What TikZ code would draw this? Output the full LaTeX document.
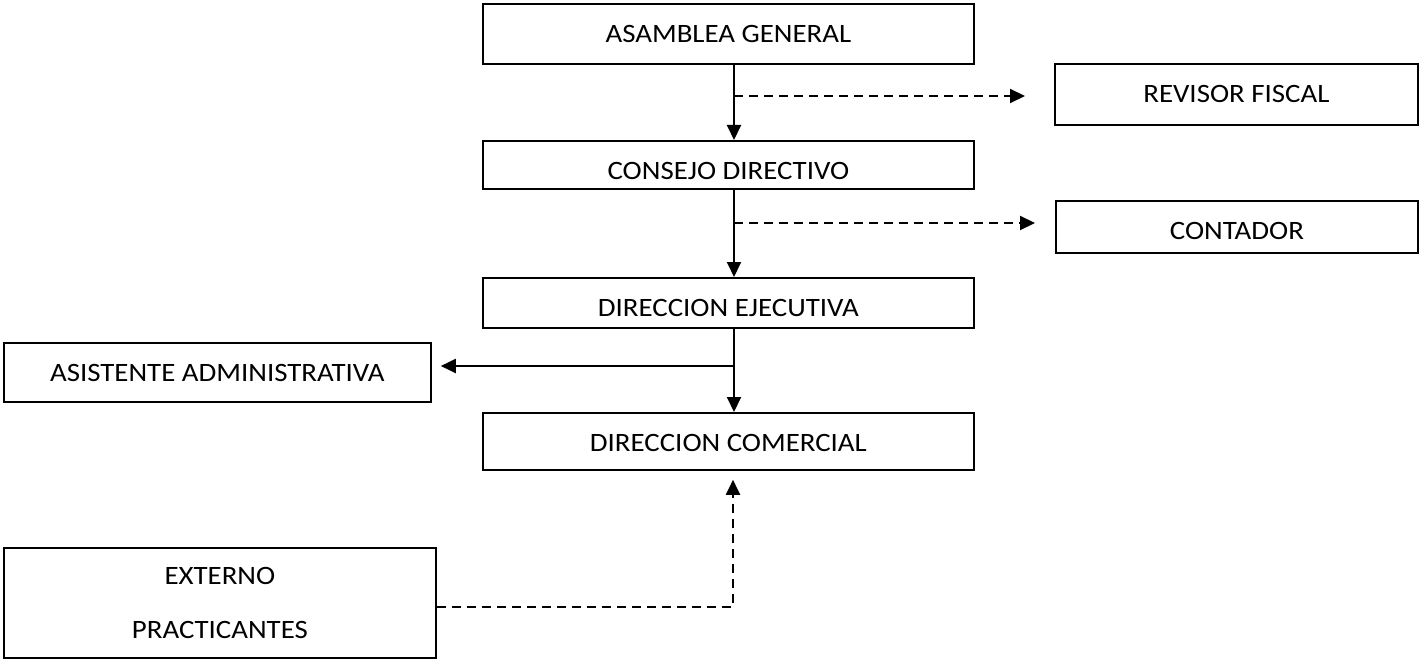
\documentclass[tikz,border=0pt]{standalone}
\usepackage{fontspec}
\setmainfont{Carlito}[FakeStretch=1.09]
\usetikzlibrary{arrows.meta}
\tikzset{
  box/.style 2 args={draw, line width=1.8pt, inner sep=0pt, anchor=north west,
    minimum width=#1, text height=39pt, text depth=#2,
    font=\fontsize{26.5}{31}\selectfont},
  conn/.style={line width=2pt, -{Triangle[length=15pt,width=14pt]}},
  dconn/.style={conn, dash pattern=on 9pt off 6pt},
}
\begin{document}
\begin{tikzpicture}[x=1pt,y=-1pt]
\useasboundingbox (0,0) rectangle (1419,663);
\node[box={491pt}{21pt}] (asam) at (482,3) {ASAMBLEA GENERAL};
\node[box={491pt}{9pt}] (cons) at (482,140) {CONSEJO DIRECTIVO};
\node[box={491pt}{11pt}] (dej) at (482,277) {DIRECCION EJECUTIVA};
\node[box={491pt}{18pt}] (dcom) at (482,412) {DIRECCION COMERCIAL};
\node[box={363pt}{22pt}] (rev) at (1054,63) {REVISOR FISCAL};
\node[box={362pt}{13pt}] (cont) at (1055,200) {CONTADOR};
\node[box={427pt}{20pt}] (asis) at (3,342) {ASISTENTE ADMINISTRATIVA};
\node[draw, line width=1.8pt, inner sep=0pt, anchor=north west,
  minimum width=432pt, minimum height=110pt, align=center,
  font=\fontsize{26.5}{54}\selectfont] (ext) at (3,547) {EXTERNO\\PRACTICANTES};
\coordinate (spine) at (734,0);
\coordinate (j1) at (734,96);
\coordinate (j2) at (734,223);
\coordinate (j3) at (734,366);
\coordinate (j4) at (733,607);
% solid spine
\draw[conn] (asam.south -| spine) -- (cons.north -| spine);
\draw[conn] (cons.south -| spine) -- (dej.north -| spine);
\draw[conn] (dej.south -| spine) -- (dcom.north -| spine);
% dashed side links
\draw[dconn, shorten >=29pt] (j1) -- (j1 -| rev.west);
\draw[dconn, shorten >=20pt] (j2) -- (j2 -| cont.west);
% assistant
\draw[conn, shorten >=9pt] (j3) -- (j3 -| asis.east);
% external
\draw[dconn, shorten >=9pt] (ext.east |- j4) -- (j4) -- (dcom.south -| j4);
\end{tikzpicture}
\end{document}
